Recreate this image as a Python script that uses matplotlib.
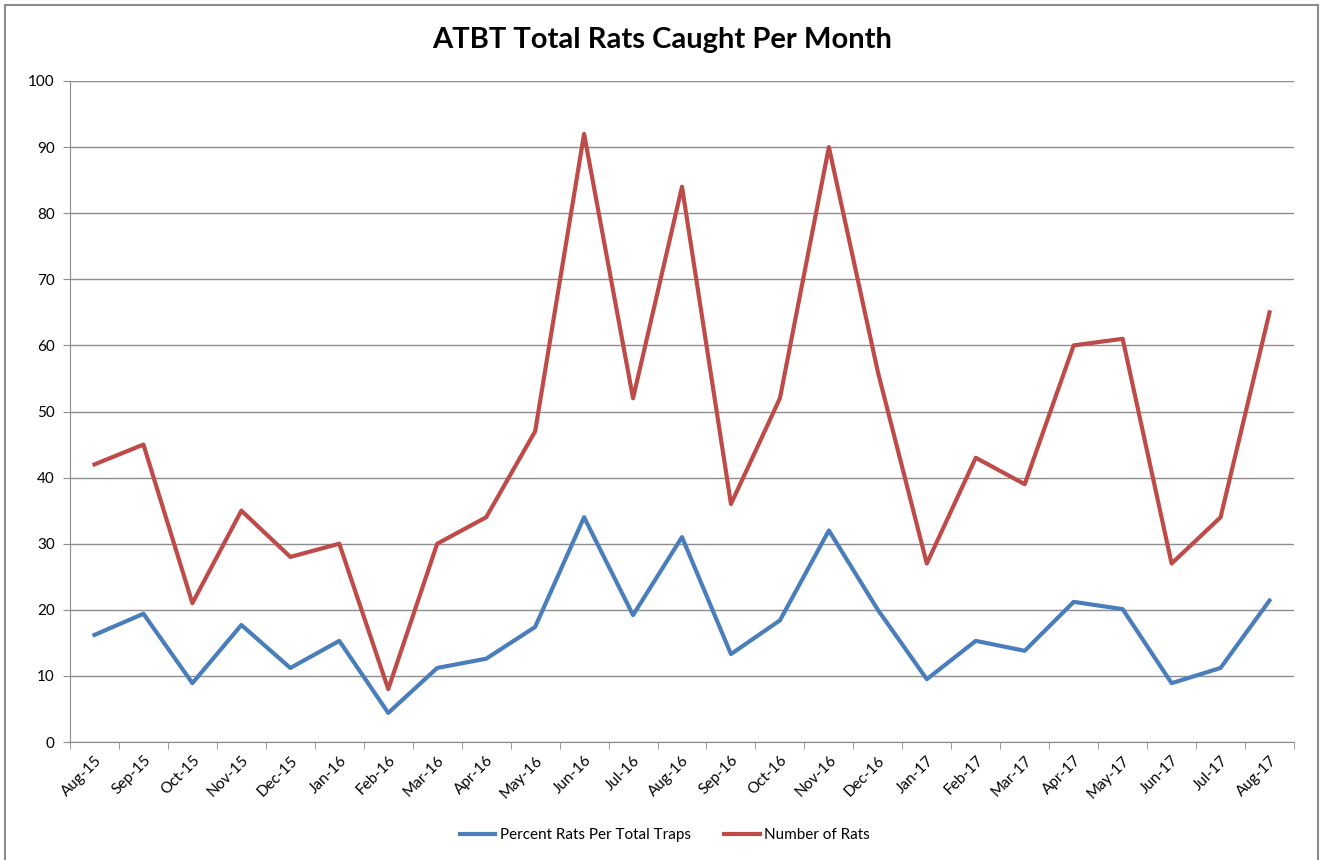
import numpy as np
import matplotlib.pyplot as plt
from matplotlib.patches import Rectangle

months = ["Aug-15", "Sep-15", "Oct-15", "Nov-15", "Dec-15", "Jan-16", "Feb-16", "Mar-16",
          "Apr-16", "May-16", "Jun-16", "Jul-16", "Aug-16", "Sep-16", "Oct-16", "Nov-16",
          "Dec-16", "Jan-17", "Feb-17", "Mar-17", "Apr-17", "May-17", "Jun-17", "Jul-17", "Aug-17"]
percent_rats = [16.2, 19.4, 8.9, 17.7, 11.2, 15.3, 4.4, 11.2, 12.6, 17.4, 34.0, 19.2, 31.0,
                13.3, 18.4, 32.0, 20.0, 9.5, 15.3, 13.8, 21.2, 20.1, 8.9, 11.2, 21.4]
number_rats = [42, 45, 21, 35, 28, 30, 8, 30, 34, 47, 92, 52, 84, 36, 52, 90, 56, 27, 43, 39,
               60, 61, 27, 34, 65]

plt.rcParams['font.family'] = ['Lato', 'DejaVu Sans']

fig = plt.figure(figsize=(13.24, 8.6), dpi=100)
ax = fig.add_axes([70/1324, 118/860, 1224/1324, 661/860])

x = np.arange(len(months))
ax.plot(x, percent_rats, color='#4a7ebb', lw=3, label='Percent Rats Per Total Traps')
ax.plot(x, number_rats, color='#be4b48', lw=3, label='Number of Rats')

ax.set_xlim(-0.5, len(months) - 0.5)
ax.set_ylim(0, 100)
ax.set_yticks(range(0, 101, 10))
ax.yaxis.grid(True, color='#8c8c8c', lw=1)
ax.set_axisbelow(True)
ax.set_xticks(x)
ax.set_xticklabels(months, rotation=45, ha='right', rotation_mode='anchor', fontsize=11)
ax.set_xticks(np.arange(-0.5, len(months)), minor=True)
ax.tick_params(axis='x', which='major', length=0, pad=8)
ax.tick_params(axis='x', which='minor', length=5, color='#8c8c8c')
ax.tick_params(axis='y', length=5, color='#8c8c8c', labelsize=11, pad=6)
for s in ['top', 'right']:
    ax.spines[s].set_visible(False)
for s in ['left', 'bottom']:
    ax.spines[s].set_color('#8c8c8c')

fig.suptitle('ATBT Total Rats Caught Per Month', x=662/1324, y=1 - 40/860, va='center',
             fontsize=21, fontweight='bold')
fig.legend(loc='center', bbox_to_anchor=(665/1324, 1 - 835/860), ncol=2, frameon=False,
           fontsize=11, handlelength=2.3, handletextpad=0.3, columnspacing=2.2)

fig.patches.append(Rectangle((5/1324, -0.01), 1313/1324, 1.0 - 5/860 + 0.01, fill=False,
                             edgecolor='#8c8c8c', lw=1.5, transform=fig.transFigure))

fig.savefig('out.png', dpi=100)
